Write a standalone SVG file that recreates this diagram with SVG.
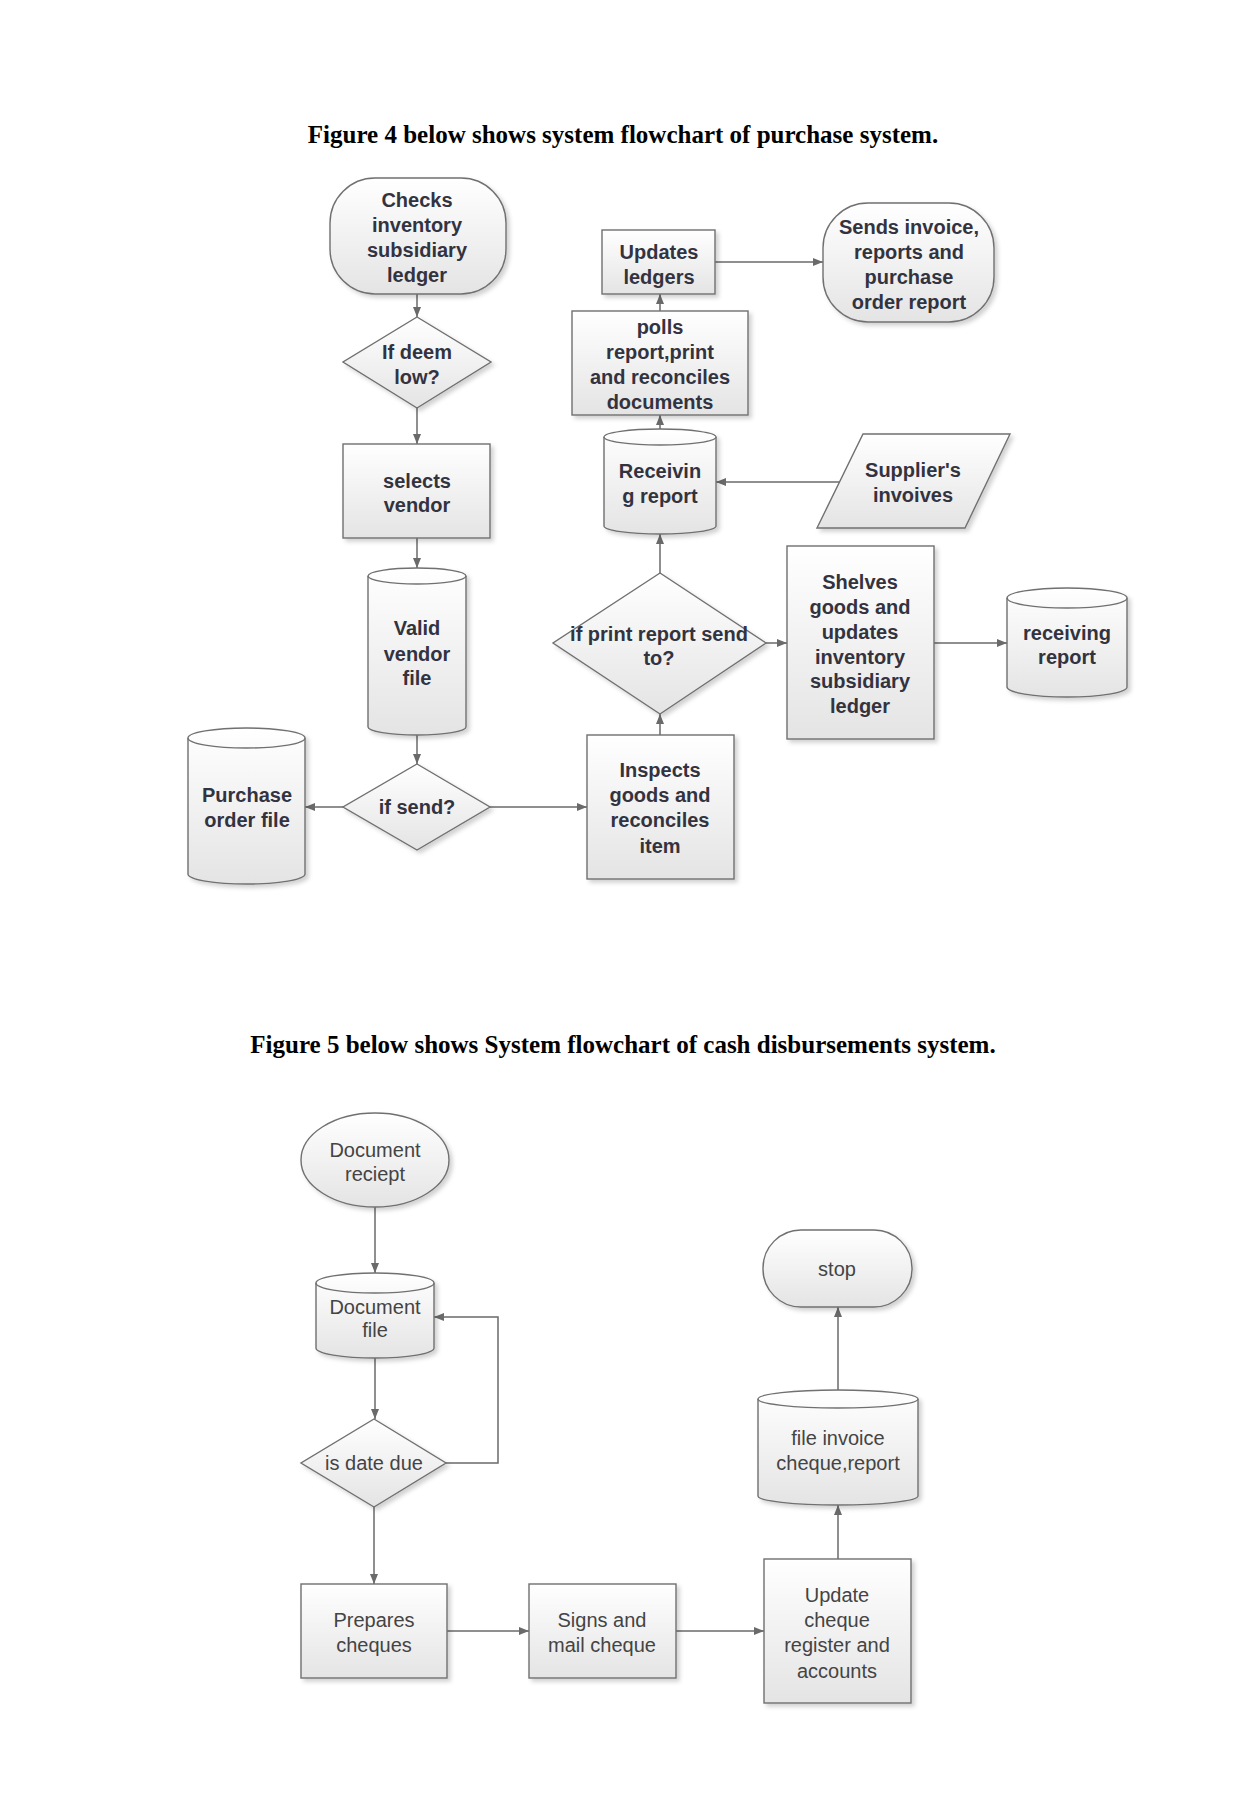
<svg xmlns="http://www.w3.org/2000/svg" width="1241" height="1807" viewBox="0 0 1241 1807">
<defs>
<linearGradient id="g" x1="0" y1="0" x2="0" y2="1">
<stop offset="0" stop-color="#ffffff"/>
<stop offset="1" stop-color="#e4e4e4"/>
</linearGradient>
<filter id="sh" x="-10%" y="-10%" width="125%" height="125%">
<feDropShadow dx="3" dy="3" stdDeviation="2" flood-color="#000" flood-opacity="0.18"/>
</filter>
<marker id="ah" markerUnits="userSpaceOnUse" markerWidth="10" markerHeight="10" viewBox="0 0 10 10" refX="10" refY="5" orient="auto">
<path d="M0,1 L10,5 L0,9 Z" fill="#6a6a6a"/>
</marker>
<style>
.s{fill:url(#g);stroke:#707070;stroke-width:1.4;filter:url(#sh)}
.l{fill:none;stroke:#707070;stroke-width:1.4}
.c{fill:none;stroke:#6a6a6a;stroke-width:1.5;marker-end:url(#ah)}
.t4{font-family:"Liberation Sans",Arial,sans-serif;font-weight:bold;font-size:20px;fill:#33333f;text-anchor:middle}
.t5{font-family:"Liberation Sans",Arial,sans-serif;font-size:20px;fill:#444444;text-anchor:middle}
.ti{font-family:"Liberation Serif","Times New Roman",serif;font-weight:bold;font-size:25px;fill:#000;text-anchor:middle}
</style>
</defs>
<rect width="1241" height="1807" fill="#ffffff"/>

<text class="ti" x="623" y="143">Figure 4 below shows system flowchart of purchase system.</text>
<text class="ti" x="623" y="1053">Figure 5 below shows System flowchart of cash disbursements system.</text>

<g id="connectors">
<path class="c" d="M417,294 V317"/>
<path class="c" d="M417,408 V444"/>
<path class="c" d="M417,538 V568"/>
<path class="c" d="M417,735 V764"/>
<path class="c" d="M343,807 H305"/>
<path class="c" d="M490,807 H587"/>
<path class="c" d="M660,735 V714"/>
<path class="c" d="M660,573 V534"/>
<path class="c" d="M840,482 H716"/>
<path class="c" d="M660,429 V415"/>
<path class="c" d="M660,311 V294"/>
<path class="c" d="M715,262 H823"/>
<path class="c" d="M766,643 H787"/>
<path class="c" d="M934,643 H1007"/>
<path class="c" d="M375,1207 V1273"/>
<path class="c" d="M375,1358 V1419"/>
<path class="c" d="M446,1463 H498 V1317 H434"/>
<path class="c" d="M374,1507 V1584"/>
<path class="c" d="M447,1631 H529"/>
<path class="c" d="M676,1631 H764"/>
<path class="c" d="M838,1559 V1505"/>
<path class="c" d="M838,1390 V1307"/>
</g>

<g id="checks">
<rect class="s" x="330" y="178" width="176" height="116" rx="45" ry="45"/>
<text class="t4" x="417" y="207">Checks</text>
<text class="t4" x="417" y="232">inventory</text>
<text class="t4" x="417" y="257">subsidiary</text>
<text class="t4" x="417" y="282">ledger</text>
</g>
<g id="deem">
<polygon class="s" points="417,317 491,362 417,408 343,362"/>
<text class="t4" x="417" y="359">If deem</text>
<text class="t4" x="417" y="384">low?</text>
</g>
<g id="selects">
<rect class="s" x="343" y="444" width="147" height="94"/>
<text class="t4" x="417" y="488">selects</text>
<text class="t4" x="417" y="512">vendor</text>
</g>
<g id="validvendor">
<path class="s" d="M368,576 A49,8 0 0 1 466,576 V727 A49,8 0 0 1 368,727 Z"/>
<path class="l" d="M368,576 A49,8 0 0 0 466,576"/>
<text class="t4" x="417" y="635">Valid</text>
<text class="t4" x="417" y="661">vendor</text>
<text class="t4" x="417" y="685">file</text>
</g>
<g id="ifsend">
<polygon class="s" points="417,764 490,807 417,850 343,807"/>
<text class="t4" x="417" y="814">if send?</text>
</g>
<g id="purchaseorder">
<path class="s" d="M188,738 A58.5,10 0 0 1 305,738 V874 A58.5,10 0 0 1 188,874 Z"/>
<path class="l" d="M188,738 A58.5,10 0 0 0 305,738"/>
<text class="t4" x="247" y="802">Purchase</text>
<text class="t4" x="247" y="827">order file</text>
</g>
<g id="inspects">
<rect class="s" x="587" y="735" width="147" height="144"/>
<text class="t4" x="660" y="777">Inspects</text>
<text class="t4" x="660" y="802">goods and</text>
<text class="t4" x="660" y="827">reconciles</text>
<text class="t4" x="660" y="853">item</text>
</g>
<g id="printreport">
<polygon class="s" points="660,573 766,643 660,714 553,643"/>
<text class="t4" x="659" y="641">if print report send</text>
<text class="t4" x="659" y="665">to?</text>
</g>
<g id="receiving">
<path class="s" d="M604,437 A56,8 0 0 1 716,437 V526 A56,8 0 0 1 604,526 Z"/>
<path class="l" d="M604,437 A56,8 0 0 0 716,437"/>
<text class="t4" x="660" y="478">Receivin</text>
<text class="t4" x="660" y="503">g report</text>
</g>
<g id="supplier">
<polygon class="s" points="863,434 1010,434 965,528 817,528"/>
<text class="t4" x="913" y="477">Supplier's</text>
<text class="t4" x="913" y="502">invoives</text>
</g>
<g id="polls">
<rect class="s" x="572" y="311" width="176" height="104"/>
<text class="t4" x="660" y="334">polls</text>
<text class="t4" x="660" y="359">report,print</text>
<text class="t4" x="660" y="384">and reconciles</text>
<text class="t4" x="660" y="409">documents</text>
</g>
<g id="updates">
<rect class="s" x="602" y="230" width="113" height="64"/>
<text class="t4" x="659" y="259">Updates</text>
<text class="t4" x="659" y="284">ledgers</text>
</g>
<g id="sends">
<rect class="s" x="823" y="203" width="171" height="119" rx="45" ry="45"/>
<text class="t4" x="909" y="234">Sends invoice,</text>
<text class="t4" x="909" y="259">reports and</text>
<text class="t4" x="909" y="284">purchase</text>
<text class="t4" x="909" y="309">order report</text>
</g>
<g id="shelves">
<rect class="s" x="787" y="546" width="147" height="193"/>
<text class="t4" x="860" y="589">Shelves</text>
<text class="t4" x="860" y="614">goods and</text>
<text class="t4" x="860" y="639">updates</text>
<text class="t4" x="860" y="664">inventory</text>
<text class="t4" x="860" y="688">subsidiary</text>
<text class="t4" x="860" y="713">ledger</text>
</g>
<g id="receivingreport">
<path class="s" d="M1007,598 A60,10 0 0 1 1127,598 V687 A60,10 0 0 1 1007,687 Z"/>
<path class="l" d="M1007,598 A60,10 0 0 0 1127,598"/>
<text class="t4" x="1067" y="640">receiving</text>
<text class="t4" x="1067" y="664">report</text>
</g>

<g id="docreciept">
<ellipse class="s" cx="375" cy="1160" rx="74" ry="47"/>
<text class="t5" x="375" y="1157">Document</text>
<text class="t5" x="375" y="1181">reciept</text>
</g>
<g id="docfile">
<path class="s" d="M316,1283 A59,10 0 0 1 434,1283 V1348 A59,10 0 0 1 316,1348 Z"/>
<path class="l" d="M316,1283 A59,10 0 0 0 434,1283"/>
<text class="t5" x="375" y="1314">Document</text>
<text class="t5" x="375" y="1337">file</text>
</g>
<g id="datedue">
<polygon class="s" points="374,1419 446,1463 374,1507 301,1463"/>
<text class="t5" x="374" y="1470">is date due</text>
</g>
<g id="prepares">
<rect class="s" x="301" y="1584" width="146" height="94"/>
<text class="t5" x="374" y="1627">Prepares</text>
<text class="t5" x="374" y="1652">cheques</text>
</g>
<g id="signs">
<rect class="s" x="529" y="1584" width="147" height="94"/>
<text class="t5" x="602" y="1627">Signs and</text>
<text class="t5" x="602" y="1652">mail cheque</text>
</g>
<g id="updatecheque">
<rect class="s" x="764" y="1559" width="147" height="144"/>
<text class="t5" x="837" y="1602">Update</text>
<text class="t5" x="837" y="1627">cheque</text>
<text class="t5" x="837" y="1652">register and</text>
<text class="t5" x="837" y="1678">accounts</text>
</g>
<g id="fileinvoice">
<path class="s" d="M758,1399 A80,9 0 0 1 918,1399 V1496 A80,9 0 0 1 758,1496 Z"/>
<path class="l" d="M758,1399 A80,9 0 0 0 918,1399"/>
<text class="t5" x="838" y="1445">file invoice</text>
<text class="t5" x="838" y="1470">cheque,report</text>
</g>
<g id="stop">
<rect class="s" x="763" y="1230" width="149" height="77" rx="38" ry="38"/>
<text class="t5" x="837" y="1276">stop</text>
</g>
</svg>
